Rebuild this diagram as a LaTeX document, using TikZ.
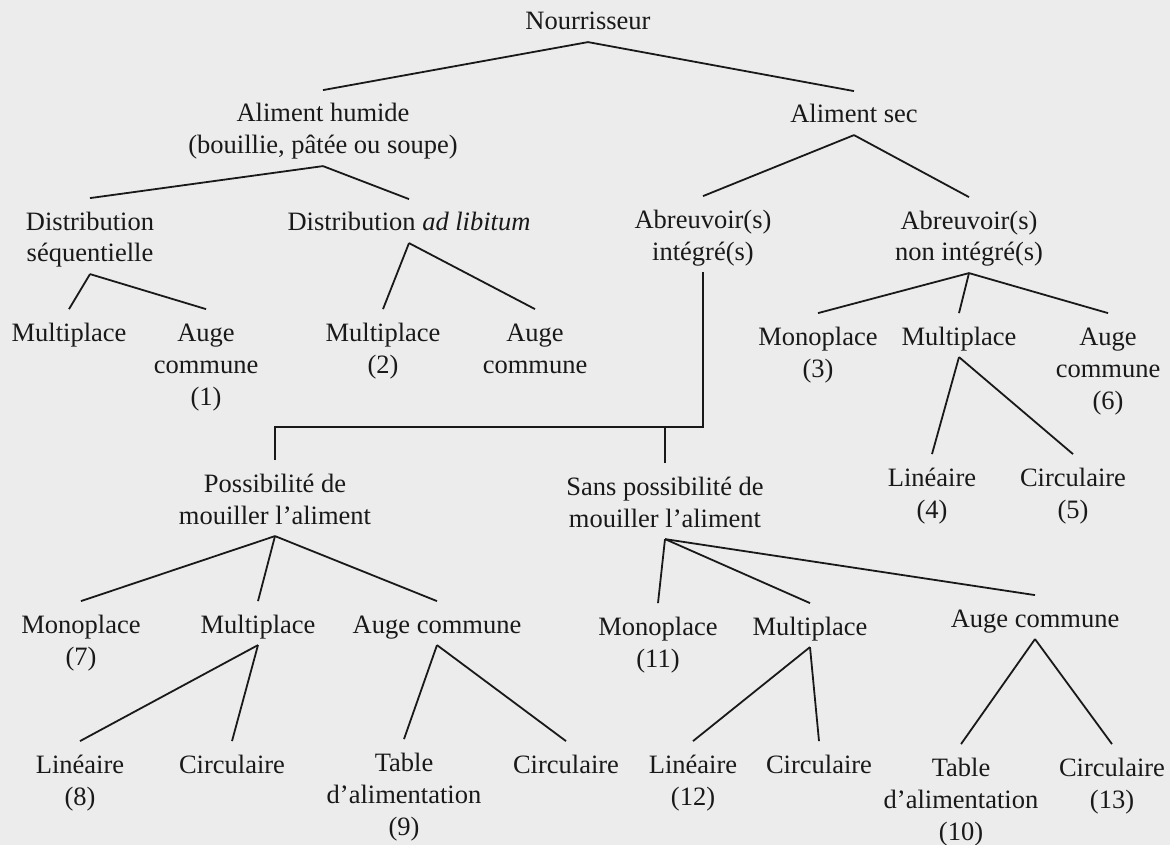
\documentclass[tikz,border=0pt]{standalone}
\usepackage{fontspec}
\setmainfont{Liberation Serif}
\definecolor{paper}{RGB}{236,236,236}
\definecolor{ink}{RGB}{25,25,25}
\begin{document}
\begin{tikzpicture}[x=1pt,y=-1pt,
  lbl/.style={inner sep=0pt,outer sep=0pt,align=center,text=ink,
    font=\fontsize{26.5}{32}\selectfont},
  link/.style={draw=ink,line width=1.8pt}]
\fill[paper] (0,0) rectangle (1170,845);
\useasboundingbox (0,0) rectangle (1170,845);
% level 0-1
\node[lbl] (N) at (588,23.6) {\strut Nourrisseur};
\node[lbl] (H) at (323,131.6) {\strut Aliment humide\\\strut (bouillie, pâtée ou soupe)};
\node[lbl] (S) at (854,116.6) {\strut Aliment sec};
% level 2
\node[lbl] (DS) at (90,239.6) {\strut Distribution\\\strut séquentielle};
\node[lbl] (DA) at (409,224.6) {\strut Distribution \textit{ad libitum}};
\node[lbl] (AI) at (703,237.6) {\strut Abreuvoir(s)\\\strut intégré(s)};
\node[lbl] (AN) at (969,238.6) {\strut Abreuvoir(s)\\\strut non intégré(s)};
% level 3
\node[lbl] (M1) at (69,334.6) {\strut Multiplace};
\node[lbl] (A1) at (206,366.6) {\strut Auge\\\strut commune\\\strut (1)};
\node[lbl] (M2) at (383,350.6) {\strut Multiplace\\\strut (2)};
\node[lbl] (A2) at (535,350.6) {\strut Auge\\\strut commune};
\node[lbl] (Mo3) at (818,354.6) {\strut Monoplace\\\strut (3)};
\node[lbl] (Mu3) at (959,338.6) {\strut Multiplace};
\node[lbl] (A6) at (1108,370.6) {\strut Auge\\\strut commune\\\strut (6)};
\node[lbl] (L4) at (932,495.6) {\strut Linéaire\\\strut (4)};
\node[lbl] (C5) at (1073,495.6) {\strut Circulaire\\\strut (5)};
% level 4
\node[lbl] (P) at (275,501.6) {\strut Possibilité de\\\strut mouiller l’aliment};
\node[lbl] (SP) at (665,504.6) {\strut Sans possibilité de\\\strut mouiller l’aliment};
% level 5
\node[lbl] (Mo7) at (81,642.6) {\strut Monoplace\\\strut (7)};
\node[lbl] (Mu7) at (258,626.6) {\strut Multiplace};
\node[lbl] (AC7) at (437,626.6) {\strut Auge commune};
\node[lbl] (Mo11) at (658,644.6) {\strut Monoplace\\\strut (11)};
\node[lbl] (Mu11) at (810,628.6) {\strut Multiplace};
\node[lbl] (AC11) at (1035,620.6) {\strut Auge commune};
% level 6
\node[lbl] (L8) at (80,782.6) {\strut Linéaire\\\strut (8)};
\node[lbl] (C8) at (232,766.6) {\strut Circulaire};
\node[lbl] (T9) at (404,796.6) {\strut Table\\\strut d’alimentation\\\strut (9)};
\node[lbl] (C9) at (566,766.6) {\strut Circulaire};
\node[lbl] (L12) at (693,782.6) {\strut Linéaire\\\strut (12)};
\node[lbl] (C12) at (819,766.6) {\strut Circulaire};
\node[lbl] (T10) at (961,801.6) {\strut Table\\\strut d’alimentation\\\strut (10)};
\node[lbl] (C13) at (1112,785.6) {\strut Circulaire\\\strut (13)};
% connectors
\foreach \p/\c in {N/H,N/S,H/DS,H/DA,S/AI,S/AN,DS/M1,DS/A1,DA/M2,DA/A2,
  AN/Mo3,AN/Mu3,AN/A6,Mu3/L4,Mu3/C5,P/Mo7,P/Mu7,P/AC7,Mu7/L8,Mu7/C8,
  AC7/T9,AC7/C9,SP/Mo11,SP/Mu11,SP/AC11,Mu11/L12,Mu11/C12,AC11/T10,AC11/C13}
  \draw[link] ([yshift=-2.5pt]\p.south) -- ([yshift=9.5pt]\c.north);
\coordinate (J) at (703,427);
\draw[link] ([yshift=9.5pt]P.north) |- (J) -- ([yshift=-2.5pt]AI.south);
\draw[link] ([yshift=9.5pt]SP.north) -- (SP.north |- J);
\end{tikzpicture}
\end{document}
